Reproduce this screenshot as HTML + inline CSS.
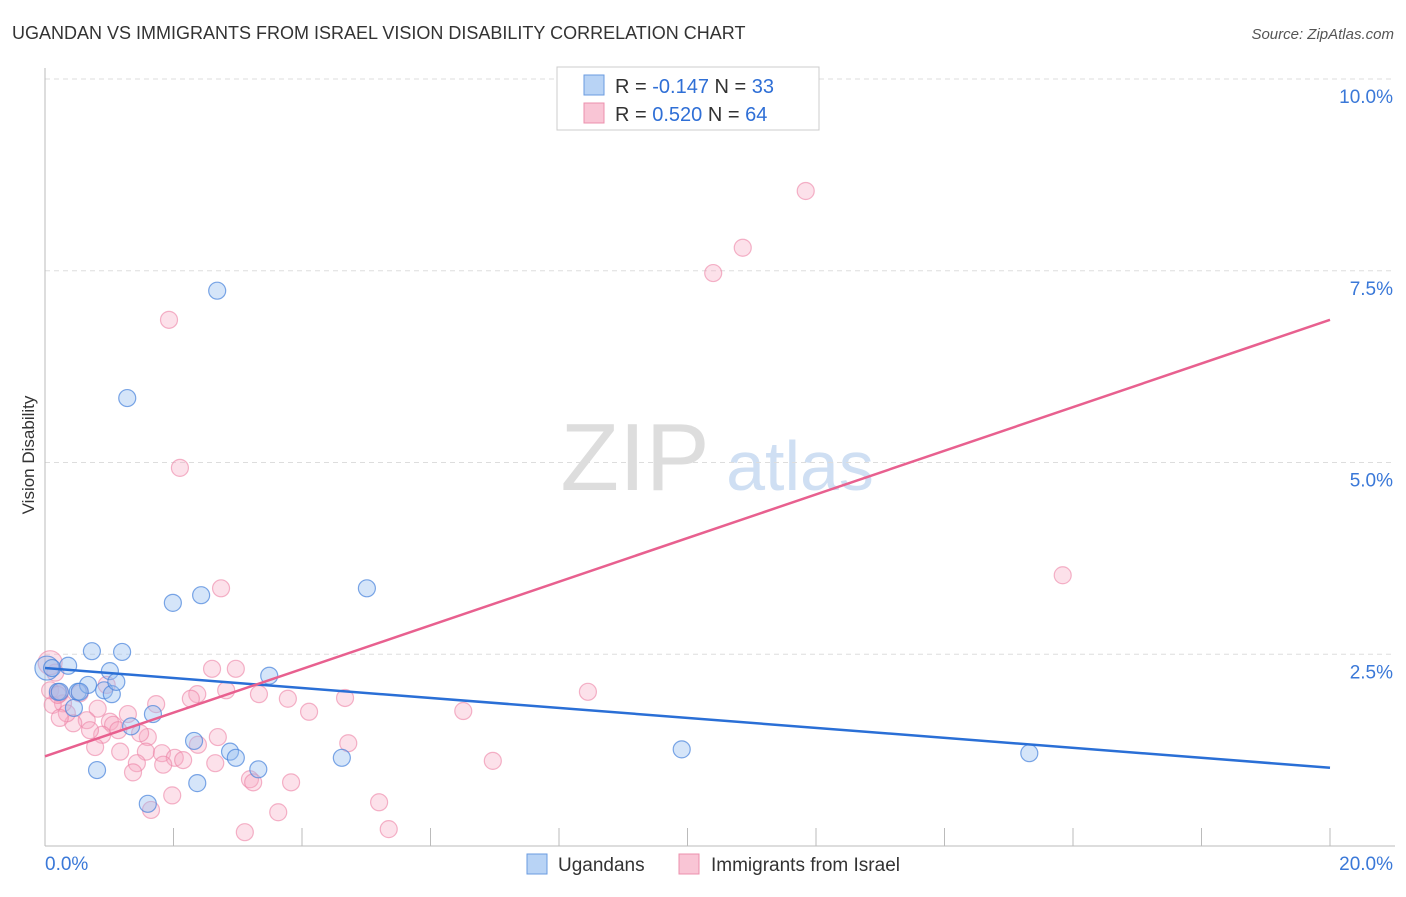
<!DOCTYPE html>
<html><head><meta charset="utf-8"><style>
body{margin:0;background:#fff;font-family:"Liberation Sans",sans-serif}
svg text{font-family:"Liberation Sans",sans-serif}
</style></head><body>
<svg id="c" width="1406" height="892" xmlns="http://www.w3.org/2000/svg">
<text x="12" y="39" font-size="18" fill="#333">UGANDAN VS IMMIGRANTS FROM ISRAEL VISION DISABILITY CORRELATION CHART</text>
<text x="1394" y="39" font-size="15" fill="#555" font-style="italic" text-anchor="end">Source: ZipAtlas.com</text>
<text x="0" y="0" transform="translate(34,455) rotate(-90)" font-size="17" fill="#333" text-anchor="middle">Vision Disability</text>
<g id="wm"><text x="635" y="490" font-size="96" fill="#ddd" font-family="Liberation Serif" text-anchor="middle">ZIP</text><text x="800" y="490" font-size="70" fill="#cfdff3" text-anchor="middle">atlas</text></g>
<g id="grid"></g><g id="axes"></g><g id="pts"></g><g id="lines"></g>
<g>
<rect x="557" y="67" width="262" height="63" fill="#fff" stroke="#ccc"/>
<rect x="584" y="75" width="20" height="20" fill="#b8d3f5" stroke="#6a9be0"/>
<rect x="584" y="103" width="20" height="20" fill="#f9c5d5" stroke="#ec90ad"/>
<text x="615" y="93" font-size="20" fill="#333">R = <tspan fill="#2f6fd6">-0.147</tspan>   N = <tspan fill="#2f6fd6">33</tspan></text>
<text x="615" y="121" font-size="20" fill="#333">R =  <tspan fill="#2f6fd6">0.520</tspan>   N = <tspan fill="#2f6fd6">64</tspan></text>
</g>
<g>
<rect x="527" y="854" width="20" height="20" fill="#b8d3f5" stroke="#6a9be0"/>
<text x="558" y="871" font-size="19" fill="#333">Ugandans</text>
<rect x="679" y="854" width="20" height="20" fill="#f9c5d5" stroke="#ec90ad"/>
<text x="711" y="871" font-size="19" fill="#333">Immigrants from Israel</text>
</g>
</svg>
<script>
const blueX=[0.03,0.11,0.36,0.20,0.51,0.67,0.73,1.01,0.92,1.04,1.11,1.20,0.81,1.34,1.68,1.60,1.99,2.43,2.68,1.28,2.32,2.37,2.88,2.97,3.32,3.49,4.62,5.01,9.91,15.32,0.45,0.54,0.23];
const blueY=[2.32,2.32,2.35,2.01,2.01,2.10,2.54,2.28,2.03,1.98,2.14,2.53,0.99,1.56,1.72,0.55,3.17,3.27,7.24,5.84,1.37,0.82,1.23,1.15,1.00,2.22,1.15,3.36,1.26,1.21,1.80,2.01,2.01];
const pinkX=[2.74,2.60,2.97,2.37,2.27,2.82,3.33,3.78,4.11,4.67,1.73,0.82,1.29,1.01,1.06,1.14,1.60,1.48,0.65,0.44,0.28,0.12,0.34,0.89,0.70,0.78,1.17,1.57,1.82,2.02,2.15,1.43,1.37,1.84,2.38,2.69,2.65,4.72,3.19,3.24,3.83,1.98,1.65,3.63,3.11,5.20,5.35,0.08,0.23,0.16,0.54,0.96,1.93,2.10,11.84,10.86,10.40,15.84,8.45,6.51,6.97,0.08,0.23,0.20];
const pinkY=[3.36,2.31,2.31,1.98,1.92,2.03,1.98,1.92,1.75,1.93,1.85,1.79,1.72,1.62,1.58,1.51,1.42,1.47,1.64,1.60,1.86,1.84,1.73,1.45,1.51,1.29,1.23,1.23,1.21,1.15,1.12,1.08,0.96,1.06,1.32,1.42,1.08,1.34,0.87,0.83,0.83,0.66,0.47,0.44,0.18,0.57,0.22,2.03,1.99,2.26,1.99,2.10,6.86,4.93,8.54,7.80,7.47,3.53,2.01,1.76,1.11,2.39,1.67,1.97];
const blueTrend=[2.32,1.02];
const pinkTrend=[1.17,6.86];
const yTicks=[2.5,5,7.5,10];
const yTickLabels=["2.5%","5.0%","7.5%","10.0%"];
const xTicks=[2,4,6,8,10,12,14,16,18,20];
const NS="http://www.w3.org/2000/svg";
const sx=v=>45+v*64.25, sy=v=>846-v*76.7;
function mk(p,t,a){const e=document.createElementNS(NS,t);for(const k in a)e.setAttribute(k,a[k]);document.getElementById(p).appendChild(e);return e;}
yTicks.forEach((t,i)=>{
 const l=mk('grid','line',{x1:45,x2:1395,y1:sy(t),y2:sy(t),stroke:'#ddd','stroke-dasharray':'5,4'});
 
 
 const tx=mk('grid','text',{x:1393,y:sy(t)+24,'font-size':19,fill:'#3a78d8','text-anchor':'end'});
 tx.textContent=yTickLabels[i];
 
 
});
mk('axes','line',{x1:45,x2:45,y1:68,y2:846,stroke:'#bbb'});
mk('axes','line',{x1:45,x2:1395,y1:846,y2:846,stroke:'#bbb'});
xTicks.forEach(t=>{const l=mk('axes','line',{x1:sx(t),x2:sx(t),y1:828,y2:846,stroke:'#bbb'});
 
 });
let a=mk('axes','text',{x:45,y:870,'font-size':19,fill:'#3a78d8'});a.textContent='0.0%';


a=mk('axes','text',{x:1393,y:870,'font-size':19,fill:'#3a78d8','text-anchor':'end'});a.textContent='20.0%';


pinkX.forEach((x,i)=>{const c=mk('pts','circle',{cx:sx(x),cy:sy(pinkY[i]),r:(i==61?12:8.5),fill:'rgba(247,170,195,0.35)',stroke:'rgba(236,130,165,0.6)','stroke-width':1.2});
 
 });
blueX.forEach((x,i)=>{const c=mk('pts','circle',{cx:sx(x),cy:sy(blueY[i]),r:(i==0?12:8.5),fill:'rgba(150,190,240,0.4)',stroke:'rgba(70,130,220,0.7)','stroke-width':1.2});
 
 });
let b=mk('lines','line',{x1:sx(0),x2:sx(20),y1:sy(blueTrend[0]),y2:sy(blueTrend[1]),stroke:'#2a6fd6','stroke-width':2.5});


let p=mk('lines','line',{x1:sx(0),x2:sx(20),y1:sy(pinkTrend[0]),y2:sy(pinkTrend[1]),stroke:'#e8608f','stroke-width':2.5});


</script>
</body></html>
